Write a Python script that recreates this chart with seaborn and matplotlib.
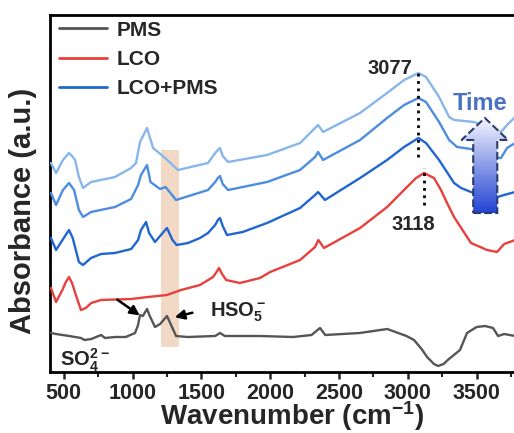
import numpy as np
import pandas as pd
import matplotlib
matplotlib.use('Agg')
import matplotlib.pyplot as plt
import seaborn as sns
from matplotlib.patches import Polygon, Rectangle
from matplotlib.colors import LinearSegmentedColormap

# FTIR spectra (wavenumber in cm-1, absorbance in a.u., stacked)
pms_wn = [407, 444, 540, 625, 650, 700, 771, 800, 872, 950, 1018, 1040, 1054, 1075, 1105, 1125,
          1163, 1200, 1250, 1280, 1316, 1400, 1600, 1635, 1670, 1926, 2166, 2300, 2362, 2400,
          2650, 2850, 2990, 3045, 3100, 3140, 3190, 3220, 3260, 3290, 3379, 3430, 3500, 3561,
          3619, 3656, 3700, 3780]
pms_abs = [0.39, 0.38, 0.36, 0.34, 0.32, 0.33, 0.37, 0.34, 0.35, 0.35, 0.39, 0.47, 0.57, 0.56,
           0.63, 0.56, 0.45, 0.48, 0.56, 0.47, 0.36, 0.35, 0.36, 0.39, 0.36, 0.36, 0.35, 0.37,
           0.44, 0.37, 0.39, 0.43, 0.36, 0.32, 0.23, 0.15, 0.08, 0.06, 0.08, 0.12, 0.22, 0.39,
           0.45, 0.46, 0.44, 0.36, 0.38, 0.36]

lco_wn = [407, 444, 490, 515, 538, 560, 600, 625, 660, 700, 770, 990, 1112, 1250, 1352, 1490,
          1585, 1610, 1628, 1650, 1680, 1780, 1926, 2000, 2217, 2326, 2350, 2391, 2653, 2850,
          2994, 3060, 3118, 3190, 3241, 3285, 3336, 3459, 3576, 3648, 3700, 3780]
lco_abs = [0.84, 0.70, 0.82, 0.90, 0.95, 0.89, 0.72, 0.62, 0.64, 0.69, 0.72, 0.73, 0.75, 0.77,
           0.82, 0.87, 0.95, 1.00, 1.04, 0.98, 0.92, 0.89, 0.94, 1.00, 1.12, 1.25, 1.32, 1.24,
           1.44, 1.65, 1.85, 1.94, 1.99, 1.94, 1.82, 1.69, 1.55, 1.29, 1.22, 1.20, 1.28, 1.32]

mix_wn = [407, 444, 500, 538, 565, 610, 640, 698, 771, 872, 990, 1040, 1061, 1080, 1098, 1120,
          1163, 1200, 1250, 1290, 1320, 1403, 1490, 1548, 1600, 1620, 1635, 1655, 1686, 1800,
          1977, 2217, 2326, 2348, 2398, 2653, 2849, 2973, 3077, 3132, 3227, 3336, 3387, 3459,
          3627, 3699, 3780]
mix_abs = [1.34, 1.22, 1.34, 1.42, 1.34, 1.10, 1.07, 1.14, 1.18, 1.19, 1.23, 1.32, 1.42, 1.46,
           1.50, 1.39, 1.30, 1.36, 1.44, 1.32, 1.27, 1.29, 1.34, 1.39, 1.47, 1.52, 1.54, 1.46,
           1.37, 1.40, 1.49, 1.64, 1.77, 1.80, 1.72, 1.94, 2.12, 2.25, 2.34, 2.29, 2.12, 1.89,
           1.84, 1.80, 1.74, 1.77, 1.80]

mix2_wn = [407, 444, 494, 538, 575, 610, 640, 698, 872, 989, 1040, 1061, 1105, 1130, 1200,
           1240, 1316, 1548, 1600, 1620, 1635, 1655, 1694, 1977, 2217, 2326, 2348, 2384, 2653,
           2849, 2973, 3077, 3132, 3227, 3300, 3358, 3459, 3576, 3677, 3721, 3780]
mix2_abs = [1.79, 1.67, 1.82, 1.89, 1.82, 1.62, 1.55, 1.60, 1.65, 1.73, 1.87, 1.97, 2.07, 1.90,
            1.83, 1.85, 1.72, 1.82, 1.90, 1.94, 1.96, 1.88, 1.82, 1.90, 2.02, 2.15, 2.20, 2.12,
            2.32, 2.54, 2.67, 2.74, 2.70, 2.50, 2.32, 2.25, 2.23, 2.15, 2.14, 2.24, 2.29]

mix3_wn = [407, 444, 494, 538, 560, 582, 610, 640, 698, 872, 989, 1025, 1054, 1105, 1149, 1236,
           1330, 1548, 1600, 1620, 1635, 1655, 1694, 1977, 2217, 2326, 2348, 2384, 2653, 2849,
           2973, 3077, 3132, 3227, 3300, 3336, 3481, 3600, 3677, 3721, 3780]
mix3_abs = [2.09, 1.99, 2.12, 2.19, 2.16, 2.12, 1.95, 1.84, 1.90, 1.95, 2.04, 2.09, 2.30, 2.44,
            2.24, 2.14, 2.02, 2.09, 2.19, 2.22, 2.24, 2.16, 2.10, 2.17, 2.29, 2.44, 2.47, 2.40,
            2.59, 2.79, 2.92, 2.99, 2.95, 2.75, 2.55, 2.52, 2.50, 2.44, 2.40, 2.47, 2.55]

series = [
    ('PMS', pms_wn, pms_abs, '#555555'),
    ('LCO', lco_wn, lco_abs, '#e8403c'),
    ('LCO+PMS', mix_wn, mix_abs, '#1f66d2'),
    (None, mix2_wn, mix2_abs, '#4d8ddf'),
    (None, mix3_wn, mix3_abs, '#88b6ec'),
]

sns.set_theme(style='ticks')
plt.rcParams['font.family'] = ['Liberation Sans', 'DejaVu Sans']
plt.rcParams['font.weight'] = 'bold'
plt.rcParams['mathtext.fontset'] = 'custom'
plt.rcParams['mathtext.rm'] = 'Liberation Sans:bold'
plt.rcParams['mathtext.bf'] = 'Liberation Sans:bold'
plt.rcParams['mathtext.default'] = 'bf'

fig = plt.figure(figsize=(5.14, 4.33), dpi=100)
ax = fig.add_axes([50 / 514, 61 / 433, 466 / 514, 357 / 433])

# highlighted HSO5- band
ax.add_patch(Rectangle((1210, 0.25), 130, 1.97, facecolor='#f2d9c6', edgecolor='none', zorder=1))

handles = []
for name, wn, ab, col in series:
    df = pd.DataFrame({'wn': wn, 'abs': ab})
    sns.lineplot(data=df, x='wn', y='abs', color=col, lw=1.7, sort=False,
                 estimator=None, ax=ax, zorder=3, solid_joinstyle='round')
    if name:
        handles.append((plt.Line2D([], [], color=col, lw=2), name))

ax.set_yticks([])
ax.set_xticks([500, 1000, 1500, 2000, 2500, 3000, 3500])
ax.set_xticks(np.arange(750, 3786, 500), minor=True)
ax.tick_params(axis='x', which='major', length=5, width=1.8, labelsize=15.5, pad=3)
ax.tick_params(axis='x', which='minor', length=3.5, width=1.5)
for lab in ax.get_xticklabels():
    lab.set_fontweight('bold')
for sp in ax.spines.values():
    sp.set_linewidth(2)
    sp.set_color('black')

ax.set_xlabel('Wavenumber (cm$^{-1}$)', fontsize=20, fontweight='bold')
ax.set_ylabel('Absorbance (a.u.)', fontsize=21, fontweight='bold')
ax.xaxis.label.set_verticalalignment('baseline')
ax.xaxis.set_label_coords(0.52, -0.149)
ax.yaxis.set_label_coords(-0.028, 0.45)

ax.legend([h for h, _ in handles], [n for _, n in handles], loc='upper left',
          bbox_to_anchor=(-0.012, 1.025), frameon=False, handlelength=2.3,
          handletextpad=0.45, labelspacing=0.5, borderaxespad=0.3,
          prop={'weight': 'bold', 'size': 15})

# peak markers
ax.plot([3077, 3077], [2.15, 3.02], color='black', ls=':', lw=2, zorder=4)
ax.plot([3118, 3118], [1.67, 2.04], color='black', ls=':', lw=2, zorder=4)
ax.text(3031, 3.04, '3077', ha='right', va='center', fontsize=14.5, fontweight='bold')
ax.text(3038, 1.47, '3118', ha='center', va='center', fontsize=14.5, fontweight='bold')

# sulfate labels and arrows
ax.text(1563, 0.60, 'HSO$_5^-$', ha='left', va='center', fontsize=14.5)
ax.text(473, 0.12, 'SO$_4^{2-}$', ha='left', va='center', fontsize=14.5)
ax.annotate('', xy=(1069, 0.55), xytext=(872, 0.74),
            arrowprops=dict(arrowstyle='-|>', color='black', lw=1.8, mutation_scale=14))
ax.annotate('', xy=(1287, 0.54), xytext=(1454, 0.60),
            arrowprops=dict(arrowstyle='-|>', color='black', lw=1.8, mutation_scale=14))

# time arrow with gradient fill
arrow_pts = [(3475, 1.59), (3650, 1.59), (3650, 2.32), (3728, 2.32), (3560, 2.54),
             (3390, 2.32), (3475, 2.32)]
clip = Polygon(arrow_pts, closed=True, facecolor='none', edgecolor='none', transform=ax.transData)
ax.add_patch(clip)
cmap = LinearSegmentedColormap.from_list('tm', ['#2244d4', '#8a9be6', '#f6f6ff'])
grad = np.linspace(0, 1, 256).reshape(-1, 1)
im = ax.imshow(grad, cmap=cmap, origin='lower', aspect='auto',
               extent=[3390, 3728, 1.59, 2.54], zorder=5)
im.set_clip_path(clip)
ax.add_patch(Polygon(arrow_pts, closed=True, fill=False, edgecolor='#2b3a6b', ls='--',
                     lw=1.5, zorder=6))
ax.text(3525, 2.68, 'Time', ha='center', va='center', fontsize=17, fontweight='bold',
        color='#4a72c0', zorder=6)

ax.set_xlim(400, 3786)
ax.set_ylim(0, 3.57)

fig.savefig('out.png', dpi=100)
